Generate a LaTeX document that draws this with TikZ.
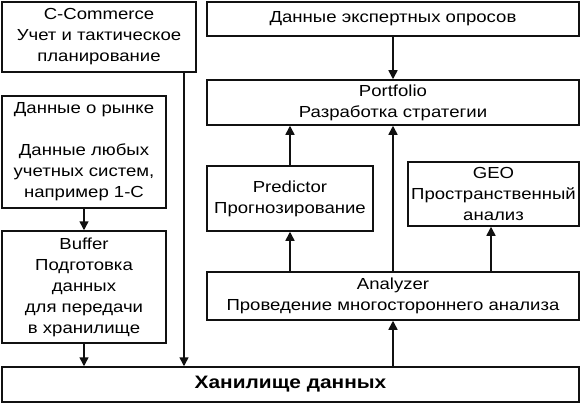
\documentclass[tikz,border=0pt]{standalone}
\usepackage{fontspec}
\setmainfont{Liberation Sans}[FakeStretch=1.16]
\usetikzlibrary{arrows.meta,positioning,calc}
\definecolor{Ink}{HTML}{111111}

\begin{document}
\begin{tikzpicture}[x=1pt,y=-1pt,
    font=\fontsize{16}{21}\selectfont,
    block/.style={draw=Ink,line width=1.5pt,align=center,inner sep=0pt,
      rectangle,fill=white},
    flow/.style={draw=Ink,line width=1.5pt,-{Triangle[length=9pt,width=9pt]}}]
    \useasboundingbox (0,0) rectangle (581,404);
    % left column
    \node[block,minimum width=194pt,minimum height=70pt] (comm) at (99,37)
      {C-Commerce\\Учет и тактическое\\планирование};
    \node[block,minimum width=164pt,minimum height=112pt] (market) at (84,152)
      {Данные о рынке\\[21pt]Данные любых\\учетных систем,\\например 1-С};
    \node[block,minimum width=164pt,minimum height=112pt] (buffer) at (84,287)
      {Buffer\\Подготовка\\данных\\для передачи\\в хранилище};
    % right column
    \node[block,minimum width=372pt,minimum height=34pt] (expert) at (393,19)
      {Данные экспертных опросов};
    \node[block,minimum width=372pt,minimum height=45pt] (portfolio) at (393,102.5)
      {Portfolio\\Разработка стратегии};
    \node[block,minimum width=166pt,minimum height=65pt] (predictor) at (290,198.5)
      {Predictor\\Прогнозирование};
    \node[block,minimum width=171pt,minimum height=64pt] (geo) at (493.5,194)
      {GEO\\Пространственный\\анализ};
    \node[block,minimum width=372pt,minimum height=48pt] (analyzer) at (393,296)
      {Analyzer\\Проведение многостороннего анализа};
    % storage
    \node[block,minimum width=577pt,minimum height=35pt,font=\fontsize{18}{21}\selectfont\bfseries]
      (store) at (290.5,384.5) {Ханилище данных};
    % connectors
    \draw[flow] (market) -- (buffer);
    \draw[flow] (buffer) -- (buffer |- store.north);
    \draw[flow] ([xshift=85pt]comm.south) -- ([xshift=85pt]comm.south |- store.north);
    \draw[flow] (expert) -- (portfolio);
    \draw[flow] (predictor) -- (predictor |- portfolio.south);
    \draw[flow] (analyzer.north) -- (portfolio.south);
    \draw[flow] (predictor |- analyzer.north) -- (predictor);
    \draw[flow] ([xshift=-2.5pt]geo.south |- analyzer.north) -- ([xshift=-2.5pt]geo.south);
    \draw[flow] (store.north -| analyzer) -- (analyzer);
  \end{tikzpicture}
\end{document}
